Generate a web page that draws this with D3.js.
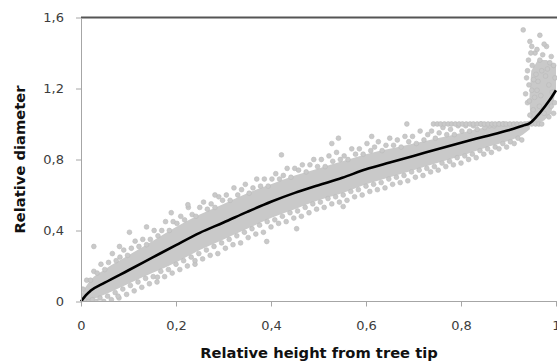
<!DOCTYPE html>
<html>
<head>
<meta charset="utf-8">
<script src="https://cdn.jsdelivr.net/npm/d3@7"></script>
<style>
  body { margin: 0; background: #fff; }
  svg { display: block; }
</style>
</head>
<body>
<div id="chart"></div>
<script>
// tick values and labels (comma decimals as in the source)
const xTicks = [0, 0.2, 0.4, 0.6, 0.8, 1];
const xTickLabels = ['0', '0,2', '0,4', '0,6', '0,8', '1'];
const yTicks = [0, 0.4, 0.8, 1.2, 1.6];
const yTickLabels = ['0', '0,4', '0,8', '1,2', '1,6'];

// fitted taper curve
const lineX = [0, 0.01, 0.02, 0.05, 0.1, 0.15, 0.2, 0.25, 0.3, 0.35, 0.4, 0.45, 0.5, 0.55, 0.6, 0.65, 0.7, 0.75, 0.8, 0.85, 0.9, 0.93, 0.945, 0.966, 0.987, 1.0];
const lineY = [0, 0.035, 0.06, 0.106, 0.176, 0.247, 0.318, 0.387, 0.445, 0.505, 0.562, 0.612, 0.655, 0.697, 0.745, 0.783, 0.82, 0.858, 0.895, 0.93, 0.965, 0.99, 1.005, 1.063, 1.136, 1.19];

// dense core of the measurement cloud
const bandX = [0, 0.02, 0.05, 0.1, 0.15, 0.2, 0.25, 0.3, 0.35, 0.4, 0.45, 0.5, 0.55, 0.6, 0.65, 0.7, 0.75, 0.8, 0.85, 0.9, 0.93, 0.945];
const bandLo = [0, 0.01, 0.04, 0.1, 0.16, 0.22, 0.29, 0.35, 0.41, 0.47, 0.52, 0.57, 0.61, 0.66, 0.70, 0.74, 0.78, 0.82, 0.865, 0.905, 0.94, 0.97];
const bandHi = [0.04, 0.12, 0.18, 0.26, 0.34, 0.42, 0.49, 0.55, 0.61, 0.66, 0.71, 0.75, 0.79, 0.83, 0.86, 0.89, 0.92, 0.95, 0.98, 1.0, 1.01, 1.02];

// dense core of the butt-end cluster
const clusterX = [0.946, 0.944, 0.948, 0.962, 0.98, 1.0, 1.0, 0.99, 0.975, 0.955];
const clusterY = [1.03, 1.15, 1.3, 1.36, 1.36, 1.33, 1.2, 1.06, 1.02, 1.0];

// single points along the upper edge of the cloud
const upperPts = [
  [0.004,0.07],[0.012,0.12],[0.02,0.12],[0.027,0.17],[0.034,0.16],[0.042,0.21],[0.05,0.18],[0.058,0.22],[0.066,0.27],[0.074,0.23],
  [0.082,0.25],[0.09,0.29],[0.098,0.26],[0.106,0.3],[0.114,0.34],[0.122,0.31],[0.13,0.35],[0.138,0.32],[0.146,0.35],[0.154,0.4],
  [0.162,0.37],[0.17,0.4],[0.178,0.45],[0.186,0.4],[0.194,0.45],[0.202,0.44],[0.21,0.48],[0.218,0.46],[0.226,0.53],[0.234,0.49],
  [0.242,0.48],[0.25,0.53],[0.258,0.56],[0.266,0.52],[0.274,0.55],[0.282,0.53],[0.29,0.59],[0.298,0.57],[0.306,0.6],[0.314,0.57],
  [0.322,0.64],[0.33,0.6],[0.338,0.63],[0.346,0.66],[0.354,0.61],[0.362,0.64],[0.37,0.69],[0.378,0.65],[0.386,0.69],[0.394,0.65],
  [0.402,0.69],[0.41,0.72],[0.418,0.69],[0.426,0.71],[0.434,0.75],[0.442,0.7],[0.45,0.75],[0.458,0.74],[0.466,0.77],[0.474,0.73],
  [0.482,0.77],[0.49,0.8],[0.498,0.76],[0.506,0.8],[0.514,0.76],[0.522,0.82],[0.53,0.79],[0.538,0.84],[0.546,0.8],[0.554,0.82],
  [0.562,0.8],[0.57,0.86],[0.578,0.83],[0.586,0.86],[0.594,0.83],[0.602,0.89],[0.61,0.85],[0.618,0.87],[0.626,0.9],[0.634,0.85],
  [0.642,0.88],[0.65,0.92],[0.658,0.88],[0.666,0.91],[0.674,0.87],[0.682,0.93],[0.69,0.9],[0.698,0.93],[0.706,0.89],[0.714,0.96],
  [0.722,0.91],[0.73,0.94],[0.738,0.96],[0.746,0.92],[0.754,0.95],[0.762,0.98],[0.77,0.94],[0.778,0.97],[0.786,0.94],[0.794,0.99],
  [0.802,0.96],[0.81,0.99],[0.818,0.96],[0.826,0.99],[0.834,0.97],[0.842,1.0],[0.85,0.98],[0.86,0.99],[0.87,0.99],[0.88,1.0],[0.89,1.0]
];

// single points along the lower edge of the cloud
const lowerPts = [
  [0.008,0.005],[0.016,0.0],[0.024,0.01],[0.032,0.0],[0.04,0.02],[0.048,0.0],[0.056,0.03],[0.064,0.01],[0.072,0.05],[0.08,0.02],
  [0.088,0.07],[0.096,0.04],[0.104,0.09],[0.112,0.06],[0.12,0.11],[0.128,0.08],[0.136,0.13],[0.144,0.1],[0.152,0.14],[0.16,0.11],
  [0.168,0.17],[0.176,0.14],[0.184,0.18],[0.192,0.16],[0.2,0.21],[0.208,0.18],[0.216,0.23],[0.224,0.2],[0.232,0.25],[0.24,0.21],
  [0.248,0.27],[0.256,0.24],[0.264,0.29],[0.272,0.26],[0.28,0.31],[0.288,0.27],[0.296,0.33],[0.304,0.3],[0.312,0.35],[0.32,0.32],
  [0.328,0.37],[0.336,0.33],[0.344,0.39],[0.352,0.36],[0.36,0.41],[0.368,0.38],[0.376,0.43],[0.384,0.39],[0.392,0.45],[0.4,0.42],
  [0.408,0.46],[0.416,0.44],[0.424,0.48],[0.432,0.45],[0.44,0.5],[0.448,0.47],[0.456,0.51],[0.464,0.48],[0.472,0.53],[0.48,0.5],
  [0.488,0.55],[0.496,0.52],[0.504,0.56],[0.512,0.53],[0.52,0.58],[0.528,0.55],[0.536,0.59],[0.544,0.56],[0.552,0.6],[0.56,0.57],
  [0.568,0.62],[0.576,0.59],[0.584,0.63],[0.592,0.6],[0.6,0.65],[0.608,0.62],[0.616,0.66],[0.624,0.63],[0.632,0.67],[0.64,0.64],
  [0.648,0.69],[0.656,0.66],[0.664,0.7],[0.672,0.67],[0.68,0.71],[0.688,0.68],[0.696,0.73],[0.704,0.7],[0.712,0.74],[0.72,0.71],
  [0.728,0.75],[0.736,0.73],[0.744,0.76],[0.752,0.74],[0.76,0.78],[0.768,0.76],[0.776,0.79],[0.784,0.77],[0.792,0.81],[0.8,0.78],
  [0.808,0.82],[0.816,0.8],[0.824,0.83],[0.832,0.81],[0.84,0.85],[0.848,0.83],[0.856,0.86],[0.864,0.84],[0.872,0.87],[0.88,0.86],
  [0.888,0.89],[0.896,0.87],[0.904,0.9],[0.912,0.89],[0.92,0.92],[0.928,0.91]
];

// isolated outliers
const outlierPts = [
  [0.027,0.31],[0.081,0.31],[0.102,0.39],[0.138,0.42],[0.19,0.5],[0.225,0.545],[0.078,0.03],[0.161,0.137],[0.24,0.23],
  [0.282,0.6],[0.391,0.338],[0.454,0.41],[0.422,0.826],[0.552,0.535],[0.528,0.89],[0.542,0.92],[0.612,0.93],[0.686,1.0]
];

// points of the butt-end cluster
const endPts = [
  [0.931,1.53],[0.966,1.5],[0.945,1.465],[0.949,1.437],[0.956,1.4],[0.98,1.437],[0.966,1.36],[0.987,1.345],[0.998,1.26],
  [0.949,1.19],[0.952,1.08],[0.94,1.3],[0.943,1.22],[0.94,1.12],[0.945,1.05],[0.96,1.42],[0.972,1.39],[0.975,1.45],
  [0.99,1.38],[0.995,1.33],[0.942,1.36],[0.95,1.33],[0.958,1.28],[0.962,1.24],[0.97,1.3],[0.978,1.27],[0.985,1.22],
  [0.992,1.18],[0.997,1.12],[0.955,1.15],[0.965,1.1],[0.975,1.06],[0.985,1.04],[0.995,1.06],[0.99,1.1],[0.96,1.19],
  [0.953,1.25],[0.982,1.31],[0.968,1.16],[0.947,1.4],[0.938,1.26],[0.936,1.17],[0.944,1.13]
];

// row of values capped at 1
const capX = [0.742, 0.75, 0.757, 0.765, 0.773, 0.78, 0.788, 0.796, 0.803, 0.811, 0.819, 0.826, 0.834, 0.842, 0.849, 0.857,
  0.865, 0.872, 0.88, 0.888, 0.895, 0.903, 0.911, 0.918, 0.926, 0.934, 0.941, 0.949, 0.957, 0.964, 0.97];
const capY = 1.0;

const width = 557, height = 362;
const margin = {top: 17.5, right: 1, bottom: 60.5, left: 81};

const svg = d3.select('#chart')
  .append('svg')
  .attr('width', width)
  .attr('height', height);

const x = d3.scaleLinear().domain([0, 1]).range([margin.left, width - margin.right]);
const y = d3.scaleLinear().domain([0, 1.6]).range([height - margin.bottom, margin.top]);

svg.append('clipPath').attr('id', 'plot')
  .append('rect')
  .attr('x', x(0)).attr('y', y(1.6))
  .attr('width', width - x(0)).attr('height', y(0) - y(1.6));

const cloud = svg.append('g').attr('clip-path', 'url(#plot)');
const grey = '#c9c9c9';

const band = d3.area()
  .x((d, i) => x(bandX[i]))
  .y0((d, i) => y(bandLo[i]))
  .y1((d, i) => y(bandHi[i]))
  .curve(d3.curveMonotoneX);

cloud.append('path')
  .datum(bandX)
  .attr('fill', grey)
  .attr('d', band);

cloud.append('path')
  .datum(clusterX.map((cx, i) => [x(cx), y(clusterY[i])]))
  .attr('fill', grey)
  .attr('d', d3.line().curve(d3.curveLinearClosed));

const allPts = upperPts.concat(lowerPts, outlierPts, endPts, capX.map(cx => [cx, capY]));

cloud.selectAll('circle')
  .data(allPts)
  .enter().append('circle')
  .attr('cx', d => x(d[0]))
  .attr('cy', d => y(d[1]))
  .attr('r', 2.4)
  .attr('fill', grey)
  .attr('stroke', '#bababa')
  .attr('stroke-width', 0.6);

const line = d3.line()
  .x((d, i) => x(lineX[i]))
  .y(d => y(d))
  .curve(d3.curveMonotoneX);

svg.append('path')
  .datum(lineY)
  .attr('fill', 'none')
  .attr('stroke', '#000')
  .attr('stroke-width', 2.6)
  .attr('d', line);

// top border at 1,6
svg.append('line')
  .attr('x1', x(0)).attr('x2', width)
  .attr('y1', y(1.6)).attr('y2', y(1.6))
  .attr('stroke', '#555')
  .attr('stroke-width', 2);

const axisColor = '#a6a6a6';

const yAxis = svg.append('g')
  .attr('transform', 'translate(' + x(0) + ',0)')
  .call(d3.axisLeft(y).tickValues(yTicks).tickFormat((d, i) => yTickLabels[i])
    .tickSizeInner(5).tickSizeOuter(0).tickPadding(12));

const xAxis = svg.append('g')
  .attr('transform', 'translate(0,' + y(0) + ')')
  .call(d3.axisBottom(x).tickValues(xTicks).tickFormat((d, i) => xTickLabels[i])
    .tickSizeInner(5).tickSizeOuter(0).tickPadding(14));

[yAxis, xAxis].forEach(g => {
  g.select('.domain').attr('stroke', axisColor);
  g.selectAll('.tick line').attr('stroke', axisColor);
  g.selectAll('.tick text')
    .attr('fill', '#3c3c3c')
    .style('font-family', 'DejaVu Sans')
    .style('font-size', '13px');
});
xAxis.select('.domain').attr('d', 'M' + x(0) + ',0H' + width);

svg.append('text')
  .attr('x', (x(0) + width) / 2)
  .attr('y', height - 4.5)
  .attr('text-anchor', 'middle')
  .style('font-family', 'DejaVu Sans')
  .style('font-weight', 'bold')
  .style('font-size', '14.7px')
  .attr('fill', '#111')
  .text('Relative height from tree tip');

svg.append('text')
  .attr('transform', 'translate(25,' + (y(0) + y(1.6)) / 2 + ') rotate(-90)')
  .attr('text-anchor', 'middle')
  .style('font-family', 'DejaVu Sans')
  .style('font-weight', 'bold')
  .style('font-size', '14.7px')
  .attr('fill', '#111')
  .text('Relative diameter');
</script>
</body>
</html>
